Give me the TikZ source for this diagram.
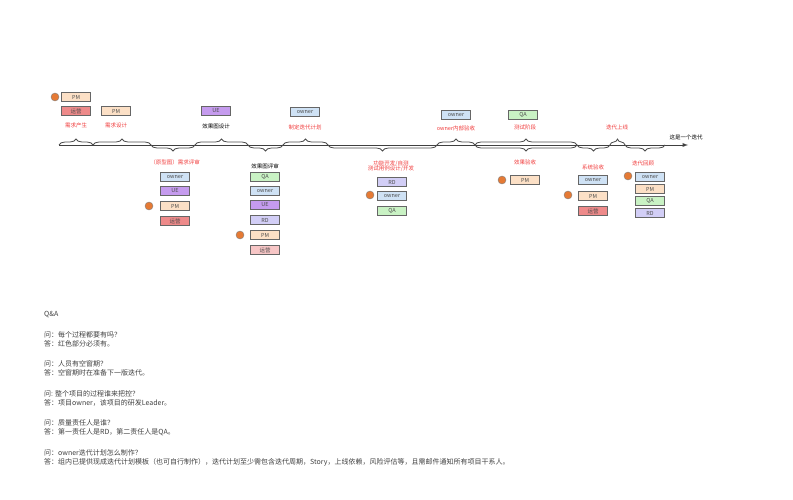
\documentclass[tikz,border=0pt]{standalone}
\usepackage{fontspec}
\setmainfont{Noto Sans CJK SC}
\usetikzlibrary{decorations.pathreplacing}
\definecolor{pmc}{HTML}{FCE0C6}
\definecolor{yyc}{HTML}{EE8A8A}
\definecolor{yyl}{HTML}{F7C6C6}
\definecolor{uec}{HTML}{C59BEE}
\definecolor{owc}{HTML}{CFE2F5}
\definecolor{qac}{HTML}{C9F2C4}
\definecolor{rdc}{HTML}{D2CEF6}
\definecolor{redt}{HTML}{F03C3C}
\definecolor{dotc}{HTML}{E57A35}
\tikzset{
  role/.style={draw=black!60, line width=0.8pt, fill=#1, minimum width=29pt, minimum height=9pt, inner sep=0pt, font=\fontsize{5.5}{6}\selectfont, text=black!70},
  lbl/.style={font=\fontsize{5.5}{6.5}\selectfont, align=center},
  up/.style={decorate, decoration={brace, amplitude=6pt}, line width=0.8pt, black!70},
  down/.style={decorate, decoration={brace, amplitude=6pt, mirror}, line width=0.8pt, black!70},
  lead/.style={circle, draw=black!50, fill=dotc, minimum size=8pt, inner sep=0pt}
}
\begin{document}
\begin{tikzpicture}[x=1pt, y=-1pt]
\useasboundingbox (0,0) rectangle (793,500);
% timeline
\coordinate (t0) at (59,145);
\coordinate (tend) at (688,145);
\draw[-latex, line width=0.9pt, black!75] (t0) -- (tend);
\node[lbl, anchor=west] (iter) at (666,137) {这是一个迭代};
% braces above
\draw[up] (59,145) -- (93,145);
\draw[up] (93,145) -- (151,145);
\draw[up] (195,145) -- (248,145);
\draw[up] (283,145) -- (328,145);
\draw[up] (437,145) -- (475,145);
\draw[up] (475,145) -- (577,145);
\draw[up] (610,145) -- (625,145);
% braces below
\draw[down] (151,145) -- (195,145);
\draw[down] (248,145) -- (283,145);
\draw[down] (328,145) -- (437,145);
\draw[down] (475,145) -- (577,145);
\draw[down] (577,145) -- (610,145);
\draw[down] (625,145) -- (665,145);

% 需求产生
\node[role=pmc] (pm1) at (76,97) {PM};
\node[lead] (d1) at (55,97) {};
\node[role=yyc] (yy1) at (76,111) {运营};
\node[lbl, text=redt] (l1) at (76,125) {需求产生};
% 需求设计
\node[role=pmc] (pm2) at (116,111) {PM};
\node[lbl, text=redt] (l2) at (116,125) {需求设计};
% 效果图设计
\node[role=uec] (ue1) at (216,111) {UE};
\node[lbl] (l3) at (216,126) {效果图设计};
% 制定迭代计划
\node[role=owc] (ow1) at (305,112) {owner};
\node[lbl, text=redt] (l4) at (305,127) {制定迭代计划};
% 原型图需求评审
\node[lbl, text=redt] (l5) at (175,162) {（原型图）需求评审};
\node[role=owc] (ow2) at (175,177) {owner};
\node[role=uec] (ue2) at (175,191) {UE};
\node[role=pmc] (pm3) at (175,206) {PM};
\node[lead] (d2) at (149,206) {};
\node[role=yyc] (yy2) at (175,221) {运营};
% 效果图评审
\node[lbl] (l6) at (265,166) {效果图评审};
\node[role=qac] (qa1) at (265,177) {QA};
\node[role=owc] (ow3) at (265,191) {owner};
\node[role=uec] (ue3) at (265,205) {UE};
\node[role=rdc] (rd1) at (265,220) {RD};
\node[role=pmc] (pm4) at (265,235) {PM};
\node[lead] (d3) at (240,235) {};
\node[role=yyl] (yy3) at (265,250) {运营};
% 功能开发
\node[lbl, text=redt] (l7) at (391,166) {功能开发/自测\\[-1pt]测试用例设计/开发};
\node[role=rdc] (rd2) at (392,182) {RD};
\node[role=owc] (ow4) at (392,196) {owner};
\node[lead] (d4) at (370,195) {};
\node[role=qac] (qa2) at (392,211) {QA};
% owner内部验收
\node[role=owc] (ow5) at (456,115) {owner};
\node[lbl, text=redt] (l8) at (456,128) {owner内部验收};
% 测试阶段
\node[role=qac] (qa3) at (523,115) {QA};
\node[lbl, text=redt] (l9) at (525,127) {测试阶段};
% 效果验收
\node[lbl, text=redt] (l10) at (525,162) {效果验收};
\node[role=pmc] (pm5) at (525,180) {PM};
\node[lead] (d5) at (502,180) {};
% 迭代上线
\node[lbl, text=redt] (l11) at (617,127) {迭代上线};
% 系统验收
\node[lbl, text=redt] (l12) at (593,167) {系统验收};
\node[role=owc] (ow6) at (593,180) {owner};
\node[role=pmc] (pm6) at (593,196) {PM};
\node[lead] (d6) at (568,195) {};
\node[role=yyc] (yy4) at (593,211) {运营};
% 迭代回顾
\node[lbl, text=redt] (l13) at (643,163) {迭代回顾};
\node[role=owc] (ow7) at (650,177) {owner};
\node[lead] (d7) at (628,176) {};
\node[role=pmc] (pm7) at (650,189) {PM};
\node[role=qac] (qa4) at (650,201) {QA};
\node[role=rdc] (rd3) at (650,213) {RD};

% Q&A
\begin{scope}[every node/.style={anchor=west, font=\fontsize{7}{8}\selectfont, text=black!75, inner sep=0pt}]
\node (qa) at (44,315) {Q\&A};
\node (q1) at (44,335) {问：每个过程都要有吗？};
\node (a1) at (44,344) {答：红色部分必须有。};
\node (q2) at (44,364) {问：人员有空窗期？};
\node (a2) at (44,373) {答：空窗期时在准备下一版迭代。};
\node (q3) at (44,394) {问: 整个项目的过程谁来把控？};
\node (a3) at (44,403) {答：项目owner，该项目的研发Leader。};
\node (q4) at (44,423) {问：质量责任人是谁？};
\node (a4) at (44,432) {答：第一责任人是RD，第二责任人是QA。};
\node (q5) at (44,453) {问：owner迭代计划怎么制作？};
\node (a5) at (44,462) {答：组内已提供现成迭代计划模板（也可自行制作），迭代计划至少需包含迭代周期，Story，上线依赖，风险评估等，且需邮件通知所有项目干系人。};
\end{scope}
\end{tikzpicture}
\end{document}
